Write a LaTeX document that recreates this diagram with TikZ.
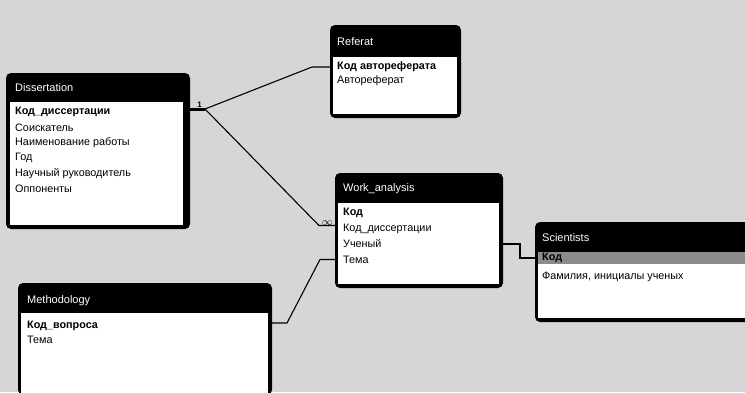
\documentclass[tikz,border=0pt]{standalone}
\usepackage{fontspec}
\setmainfont{Liberation Sans}
\usetikzlibrary{positioning,calc}
\tikzset{
	tbl/.style={fill=black, rounded corners=5pt, anchor=north west, inner sep=0, outer sep=0},
	tblbody/.style={fill=white, anchor=north west, inner sep=0, outer sep=0},
	tbltitle/.style={text=white, anchor=west, inner sep=0, font=\fontsize{11}{12}\selectfont},
	fld/.style={anchor=west, inner sep=0, font=\fontsize{10.8}{12}\selectfont},
	key/.style={fld, font=\fontsize{10.8}{12}\selectfont\bfseries},
	link/.style={draw, line width=1.1pt},
	lbl/.style={inner sep=1pt, font=\fontsize{8}{9}\selectfont\bfseries}
}

\begin{document}
\begin{tikzpicture}[x=1pt, y=-1pt]
	\useasboundingbox (0,0) rectangle (745,392);
	\fill[black!16] (0,0) rectangle (745,392);
	% Dissertation
	\node[tbl, minimum width=184pt, minimum height=156pt] (dis) at (6,73) {};
	\node[tblbody, minimum width=173pt, minimum height=123pt] (dis-b) at (10,102) {};
	\node[tbltitle] (dis-t) at (15,88) {Dissertation};
	\node[key] (dis-kod) at (15,112) {Код\_диссертации};
	\foreach \f [count=\i] in {Соискатель, Наименование работы, Год, Научный руководитель, Оппоненты}
		\node[fld] (dis-f\i) at (15,112+15.3*\i) {\f};
	% Referat
	\node[tbl, minimum width=131pt, minimum height=93pt] (ref) at (330,25) {};
	\node[tblbody, minimum width=124pt, minimum height=57pt] (ref-b) at (333,57) {};
	\node[tbltitle] (ref-t) at (337,42) {Referat};
	\node[key] (ref-kod) at (337,67) {Код автореферата};
	\node[fld] (ref-f1) at (337,81) {Автореферат};
	% Work_analysis
	\node[tbl, minimum width=168pt, minimum height=115pt] (wa) at (335,173) {};
	\node[tblbody, minimum width=161pt, minimum height=81pt] (wa-b) at (338,203) {};
	\node[tbltitle] (wa-t) at (343,189) {Work\_analysis};
	\node[key] (wa-kod) at (343,213) {Код};
	\node[fld] (wa-kd) at (343,228.5) {Код\_диссертации};
	\node[fld] (wa-u) at (343,244) {Ученый};
	\node[fld] (wa-tema) at (343,259.5) {Тема};
	% Scientists
	\node[tbl, minimum width=215pt, minimum height=100pt] (sci) at (535,222) {};
	\node[tblbody, minimum width=212pt, minimum height=66pt] (sci-b) at (538,252) {};
	\node[anchor=north west, inner sep=0, fill=black!45, minimum width=212pt, minimum height=12pt] (sci-hl) at (538,252) {};
	\node[tbltitle] (sci-t) at (542,238) {Scientists};
	\node[key] (sci-kod) at (542,258) {Код};
	\node[fld] (sci-f1) at (542,277) {Фамилия, инициалы ученых};
	% Methodology
	\node[tbl, minimum width=254pt, minimum height=112pt] (met) at (18,283) {};
	\node[tblbody, minimum width=247pt, minimum height=80pt] (met-b) at (21,313) {};
	\node[tbltitle] (met-t) at (27,301) {Methodology};
	\node[key] (met-kod) at (27,326) {Код\_вопроса};
	\node[fld] (met-f1) at (27,340) {Тема};
	% links
	\coordinate (hub) at ($(dis.east |- dis-kod)+(15,-3)$);
	\draw[line width=3pt] ([yshift=3pt]dis.east |- dis-kod) -- (hub);
	\draw[link] (hub) -- ($(ref.west |- ref-kod)+(-18,0)$) -- (ref.west |- ref-kod);
	\draw[link] (hub) -- ($([yshift=3pt]wa.west |- wa-kd)+(-16,0)$) -- ([yshift=3pt]wa.west |- wa-kd);
	\node[lbl, anchor=south east] (one) at ([xshift=-2pt]hub) {1};
	\node[lbl, anchor=south east, font=\fontsize{11}{12}\selectfont] (many) at ([yshift=2pt,xshift=-1pt]wa.west |- wa-kd) {$\mathbf{\infty}$};
	\draw[link] (wa.east |- wa-u) -- ++(17,0) |- (sci.west |- sci-kod);
	\draw[link] ([yshift=3pt]met.east |- met-kod) -- ++(15,0) -- ($(wa.west |- wa-tema)+(-15,0)$) -- (wa.west |- wa-tema);
\end{tikzpicture}
\end{document}
